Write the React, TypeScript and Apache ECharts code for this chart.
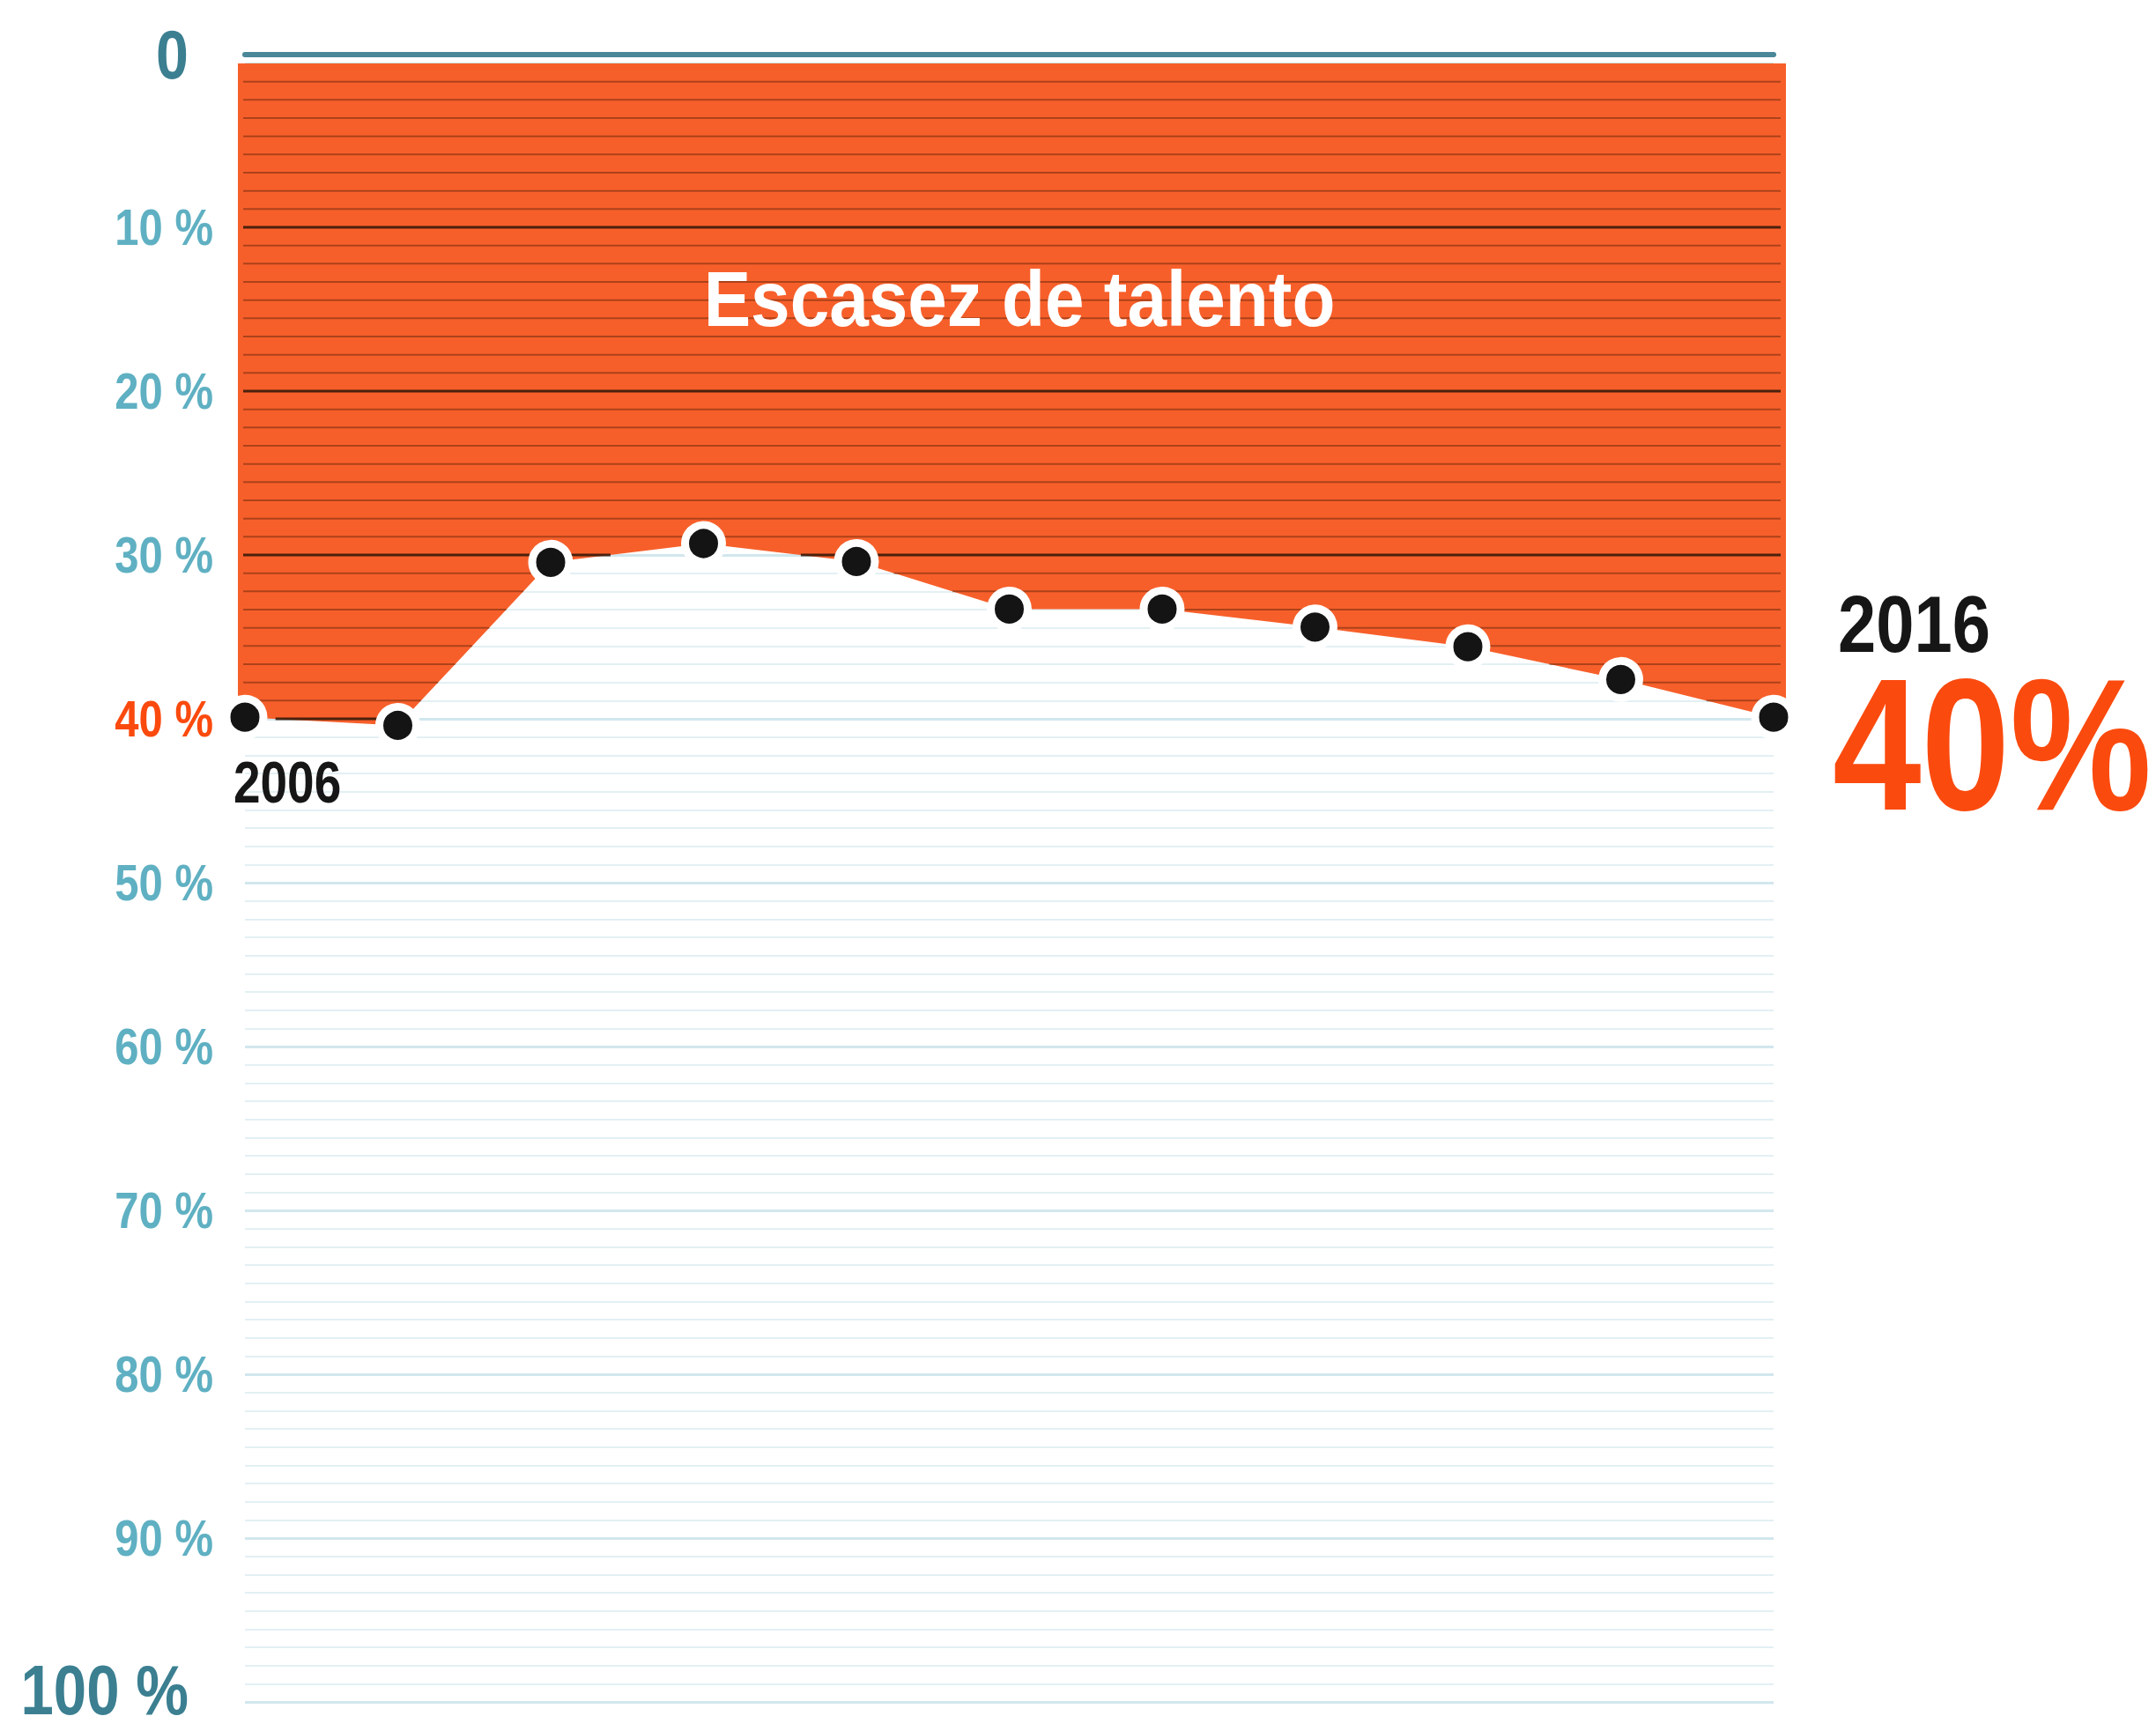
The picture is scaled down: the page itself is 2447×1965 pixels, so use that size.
import React, { useEffect, useRef } from "react";
import * as echarts from "echarts";

// ---- data ----
const years = ["2006", "2007", "2008", "2009", "2010", "2011", "2012", "2013", "2014", "2015", "2016"];
const shortage = [39.9, 40.4, 30.45, 29.3, 30.4, 33.3, 33.3, 34.4, 35.6, 37.6, 39.9];
const yTicks = [0, 10, 20, 30, 40, 50, 60, 70, 80, 90, 100];
const areaTitle = "Escasez de talento";

const FONT = "'Liberation Sans', Arial, 'Roboto', sans-serif";
const ORANGE = "#f75f2a";
const ORANGE_TEXT = "#fb4a0e";
const TEAL_LIGHT = "#5fb0c2";
const TEAL_DARK = "#3b7f91";
const CONDENSE = 0.85;

export default function App() {
  const ref = useRef<HTMLDivElement>(null);

  useEffect(() => {
    if (!ref.current) return;
    const chart = echarts.init(ref.current, null, { renderer: "svg" });
    const n = shortage.length;
    const lastVal = Math.round(shortage[n - 1]);
    const maxVal = Math.max(...shortage);

    const txt = (
      x: number,
      y: number,
      text: string,
      size: number,
      fill: string,
      align: string,
      scaleX = CONDENSE,
      lineHeight?: number
    ) => ({
      type: "text",
      x,
      y,
      scaleX,
      style: {
        text,
        fill,
        font: `bold ${size}px ${FONT}`,
        align,
        verticalAlign: "middle",
        ...(lineHeight ? { lineHeight } : {}),
      },
    });

    const renderArea = (params: any, api: any) => {
      const pts = shortage.map((v, i) => api.coord([i, v]));
      const top = api.coord([0, 0])[1];
      const padL = 8;
      const padR = 14;
      const boundary: number[][] = [
        [pts[0][0] - padL, pts[0][1]],
        ...pts,
        [pts[n - 1][0] + padR, pts[n - 1][1]],
      ];
      const poly = [[boundary[0][0], top], ...boundary, [boundary[boundary.length - 1][0], top]];
      const children: any[] = [
        { type: "polygon", shape: { points: poly }, style: { fill: ORANGE } },
      ];
      const leftEdge = boundary[0][0];
      const rightEdge = boundary[boundary.length - 1][0];
      for (let k = 1; k < 200; k++) {
        const v = (k * 10) / 9;
        if (v > maxVal + 1) break;
        const yv = api.coord([0, v])[1];
        const ranges: number[][] = [];
        for (let i = 0; i < boundary.length - 1; i++) {
          const a = boundary[i];
          const b = boundary[i + 1];
          const ia = a[1] >= yv;
          const ib = b[1] >= yv;
          if (!ia && !ib) continue;
          let x1 = a[0];
          let x2 = b[0];
          if (!(ia && ib)) {
            const t = (yv - a[1]) / (b[1] - a[1]);
            const xi = a[0] + t * (b[0] - a[0]);
            if (ia) x2 = xi;
            else x1 = xi;
          }
          const prev = ranges[ranges.length - 1];
          if (prev && Math.abs(prev[1] - x1) < 0.5) prev[1] = x2;
          else ranges.push([x1, x2]);
        }
        const major = k % 9 === 0;
        ranges.forEach(([x1, x2]) => {
          const s = Math.abs(x1 - leftEdge) < 0.5 ? x1 + 6 : x1;
          const e = Math.abs(x2 - rightEdge) < 0.5 ? x2 - 6 : x2;
          if (e - s < 2) return;
          children.push({
            type: "line",
            shape: { x1: s, y1: yv, x2: e, y2: yv },
            style: {
              stroke: major ? "rgba(45,22,8,0.85)" : "rgba(90,35,10,0.48)",
              lineWidth: major ? 3 : 2,
            },
          });
        });
      }
      return { type: "group", children };
    };

    const renderTickLabel = (params: any, api: any) => {
      const v = api.value(1);
      const [x0, y] = api.coord([0, v]);
      if (v === 0) return txt(x0 - 64, y - 10, "0", 78, TEAL_DARK, "right", 0.85);
      if (v === 100) return txt(x0 - 64, y - 14, "100 %", 80, TEAL_DARK, "right", 0.84, 60);
      const color = v === lastVal ? ORANGE_TEXT : TEAL_LIGHT;
      return txt(x0 - 36, y, `${v} %`, 57, color, "right", 0.86);
    };

    const renderPointLabel = (params: any, api: any) => {
      const i = params.dataIndex;
      const [px, py] = api.coord([api.value(0), api.value(1)]);
      if (i === 0) {
        return txt(px - 13, py + 74, years[0], 67, "#161616", "left", 0.82);
      }
      if (i === n - 1) {
        return {
          type: "group",
          children: [
            txt(px + 73, py - 106, years[n - 1], 91, "#161616", "left", 0.855),
            txt(px + 67, py + 31, `${lastVal}%`, 214, ORANGE_TEXT, "left", 0.845),
          ],
        };
      }
      return null;
    };

    const option: any = {
      animation: false,
      backgroundColor: "#ffffff",
      grid: { left: 278, right: 434, top: 72, bottom: 33, containLabel: false, outerBoundsMode: "none" },
      xAxis: {
        type: "category",
        data: years,
        boundaryGap: false,
        position: "top",
        offset: 10,
        axisLine: { show: true, onZero: false, lineStyle: { color: "#4a8799", width: 6, cap: "round" } },
        axisTick: { show: false },
        axisLabel: { show: false },
        splitLine: { show: false },
      },
      yAxis: {
        type: "value",
        inverse: true,
        min: 0,
        max: 100,
        interval: 10,
        axisLine: { show: false },
        axisTick: { show: false },
        axisLabel: { show: false },
        minorTick: { show: false, splitNumber: 9 },
        splitLine: { show: true, lineStyle: { color: "#d2e7ee", width: 3 } },
        minorSplitLine: { show: true, lineStyle: { color: "#e3f0f4", width: 2 } },
      },
      graphic: [
        {
          type: "text",
          x: 1157,
          y: 339,
          z: 10,
          scaleX: 0.9,
          style: {
            text: areaTitle,
            fill: "#ffffff",
            font: `bold 89px ${FONT}`,
            align: "center",
            verticalAlign: "middle",
          },
        },
      ],
      series: [
        {
          type: "custom",
          name: "area",
          coordinateSystem: "cartesian2d",
          clip: false,
          z: 2,
          silent: true,
          renderItem: renderArea,
          data: [[0, 0]],
        },
        {
          type: "line",
          name: "shortage",
          z: 3,
          data: shortage,
          symbol: "circle",
          symbolSize: 42,
          lineStyle: { width: 0, opacity: 0 },
          itemStyle: { color: "#141414", borderColor: "#ffffff", borderWidth: 9 },
          silent: true,
        },
        {
          type: "custom",
          name: "tickLabels",
          coordinateSystem: "cartesian2d",
          clip: false,
          z: 4,
          silent: true,
          renderItem: renderTickLabel,
          data: yTicks.map((v) => [0, v]),
        },
        {
          type: "custom",
          name: "pointLabels",
          coordinateSystem: "cartesian2d",
          clip: false,
          z: 4,
          silent: true,
          renderItem: renderPointLabel,
          data: shortage.map((v, i) => [i, v]),
        },
      ],
    };
    chart.setOption(option);
    return () => chart.dispose();
  }, []);

  return (
    <div
      ref={ref}
      style={{ position: "fixed", left: 0, top: 0, width: 2447, height: 1965, background: "#fff" }}
    />
  );
}
